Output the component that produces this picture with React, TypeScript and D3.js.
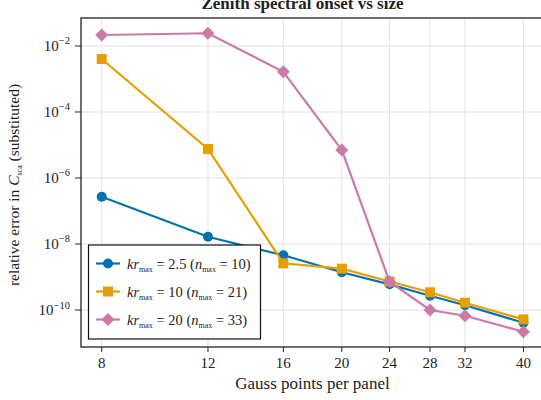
import React from 'react';
import * as d3 from 'd3';

const gaussPoints = [8, 12, 16, 20, 24, 28, 32, 40];
const errKr25 = [2.7e-7, 1.66e-8, 4.55e-9, 1.39e-9, 6.0e-10, 2.71e-10, 1.39e-10, 4.1e-11];
const errKr10 = [4.04e-3, 7.57e-6, 2.6e-9, 1.79e-9, 7.3e-10, 3.44e-10, 1.66e-10, 5.2e-11];
const errKr20 = [2.15e-2, 2.43e-2, 1.65e-3, 7.05e-6, 7.2e-10, 1.0e-10, 6.7e-11, 2.2e-11];
const yTickExps = [-2, -4, -6, -8, -10];

const series = [
  { kr: '2.5', n: '10', values: errKr25, color: '#0072B2', marker: 'circle' },
  { kr: '10', n: '21', values: errKr10, color: '#E69F00', marker: 'square' },
  { kr: '20', n: '33', values: errKr20, color: '#CC79A7', marker: 'diamond' },
];

const W = 541;
const H = 400;
const margin = { top: 18, right: -2, bottom: 53, left: 81 };
const font = '"Liberation Serif", "DejaVu Serif", serif';

const Marker = ({ type, x, y, color }: { type: string; x: number; y: number; color: string }) => {
  if (type === 'circle') return <circle cx={x} cy={y} r={5} fill={color} />;
  if (type === 'square') return <rect x={x - 5} y={y - 5} width={10} height={10} fill={color} />;
  return <path d={`M${x},${y - 6.5}L${x + 6.5},${y}L${x},${y + 6.5}L${x - 6.5},${y}Z`} fill={color} />;
};

const App = () => {
  const x = d3.scaleLog().domain([7.392, 43.1]).range([margin.left, W - margin.right]);
  const y = d3.scaleLog().domain([Math.pow(10, -11.121), Math.pow(10, -1.152)]).range([H - margin.bottom, margin.top]);
  const line = d3.line<number>()
    .x((_, i) => x(gaussPoints[i]))
    .y(d => y(d));

  const left = margin.left;
  const right = W - margin.right;
  const top = margin.top;
  const bottom = H - margin.bottom;

  return (
    <svg width={W} height={H} style={{ position: 'absolute', left: 0, top: 0 }} fontFamily={font}>
      <rect width={W} height={H} fill="#fff" />
      {/* grid */}
      {gaussPoints.map(g => (
        <line key={'gx' + g} x1={x(g)} x2={x(g)} y1={top} y2={bottom} stroke="#e3e3e3" strokeWidth={1} />
      ))}
      {yTickExps.map(e => (
        <line key={'gy' + e} x1={left} x2={right} y1={y(Math.pow(10, e))} y2={y(Math.pow(10, e))} stroke="#e3e3e3" strokeWidth={1} />
      ))}

      {/* series */}
      {series.map(s => (
        <g key={s.kr}>
          <path d={line(s.values) || ''} fill="none" stroke={s.color} strokeWidth={2.2} />
          {s.values.map((v, i) => (
            <Marker key={i} type={s.marker} x={x(gaussPoints[i])} y={y(v)} color={s.color} />
          ))}
        </g>
      ))}

      {/* frame */}
      <rect x={left} y={top} width={right - left} height={bottom - top} fill="none" stroke="#222" strokeWidth={1.3} />

      {/* x axis */}
      {gaussPoints.map(g => (
        <g key={'xt' + g}>
          <line x1={x(g)} x2={x(g)} y1={bottom} y2={bottom + 5} stroke="#222" strokeWidth={1} />
          <text x={x(g)} y={368} fontSize={15} textAnchor="middle" fill="#222">{g}</text>
        </g>
      ))}
      <text x={312.5} y={389} fontSize={17} textAnchor="middle" fill="#222">Gauss points per panel</text>

      {/* y axis */}
      {yTickExps.map(e => (
        <g key={'yt' + e}>
          <line x1={left - 6} x2={left} y1={y(Math.pow(10, e))} y2={y(Math.pow(10, e))} stroke="#222" strokeWidth={1} />
          <text x={70} y={y(Math.pow(10, e)) + 5} fontSize={15} textAnchor="end" fill="#222">
            10<tspan fontSize={10.5} dy={-6.5}>{'\u2212' + Math.abs(e)}</tspan>
          </text>
        </g>
      ))}
      <text transform={`translate(19,185) rotate(-90)`} fontSize={15.5} textAnchor="middle" fill="#222">
        relative error in <tspan fontStyle="italic">C</tspan><tspan fontSize={8} dy={3}>sca</tspan><tspan dy={-3}> (substituted)</tspan>
      </text>

      {/* title */}
      <text x={302.5} y={9} fontSize={17} fontWeight="bold" textAnchor="middle" fill="#222">Zenith spectral onset vs size</text>

      {/* legend */}
      <rect x={88.5} y={245} width={172} height={94} fill="#fff" stroke="#111" strokeWidth={1.2} />
      {series.map((s, i) => {
        const ly = 263.5 + i * 28;
        return (
          <g key={'lg' + s.kr}>
            <line x1={96} x2={120} y1={ly} y2={ly} stroke={s.color} strokeWidth={2.2} />
            <Marker type={s.marker} x={108} y={ly} color={s.color} />
            <text x={127} y={ly + 5} fontSize={14.5} fill="#222">
              <tspan fontStyle="italic">kr</tspan><tspan fontSize={8} dy={3}>max</tspan>
              <tspan dy={-3}>{` = ${s.kr} (`}</tspan><tspan fontStyle="italic">n</tspan>
              <tspan fontSize={8} dy={3}>max</tspan><tspan dy={-3}>{` = ${s.n})`}</tspan>
            </text>
          </g>
        );
      })}
    </svg>
  );
};

export default App;
